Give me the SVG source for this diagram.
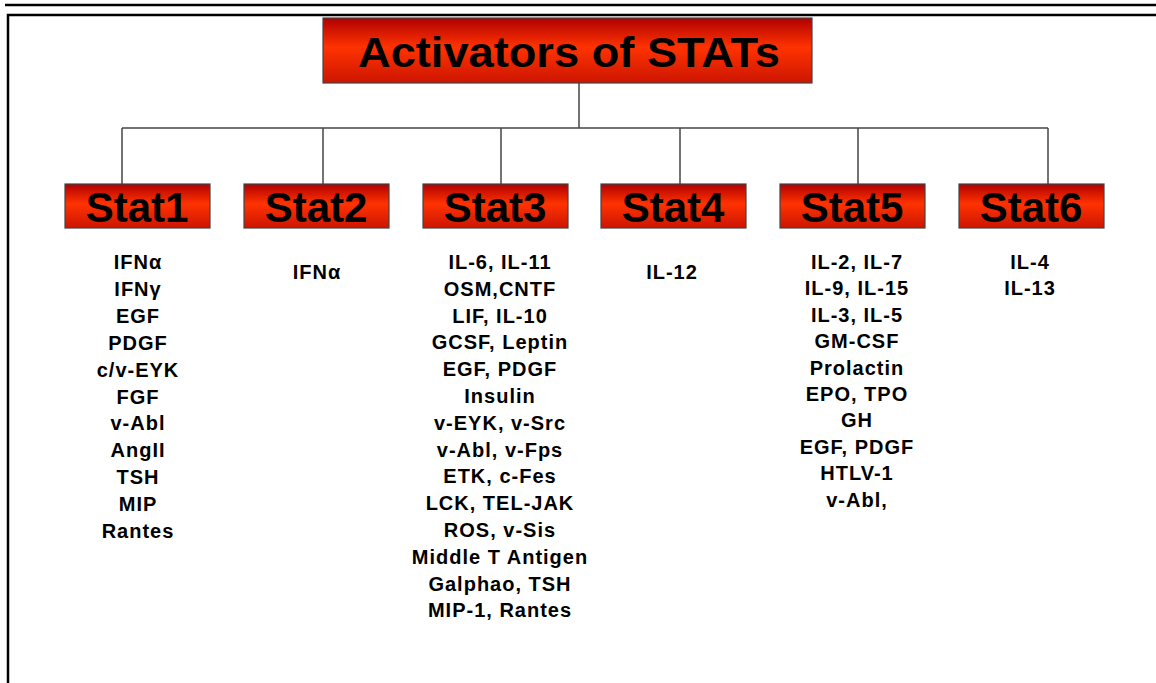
<svg xmlns="http://www.w3.org/2000/svg" width="1156" height="683" viewBox="0 0 1156 683">
<defs>
<linearGradient id="red" x1="0" y1="0" x2="0" y2="1">
<stop offset="0" stop-color="#b00000"/>
<stop offset="0.45" stop-color="#ff3300"/>
<stop offset="1" stop-color="#cc1500"/>
</linearGradient>
<style>
.box{fill:url(#red);stroke:#444;stroke-width:1.2}
.title{font-family:"Liberation Sans",Arial,sans-serif;font-weight:bold;font-size:42px;fill:#000}
.stat{font-family:"Liberation Sans",Arial,sans-serif;font-weight:bold;font-size:42px;fill:#000;text-anchor:middle}
.item{font-family:"Liberation Sans",Arial,sans-serif;font-weight:bold;font-size:20px;letter-spacing:1px;fill:#000;text-anchor:middle}
.conn{stroke:#444;stroke-width:1.5;fill:none}
.frame{stroke:#000;stroke-width:2.5;fill:none}
</style>
</defs>
<rect x="0" y="0" width="1156" height="683" fill="#fff"/>
<g id="frame">
<line class="frame" x1="5" y1="5" x2="1156" y2="5"/>
<polyline class="frame" points="8,683 8,15 1156,15"/>
</g>
<g id="connectors">
<line class="conn" x1="579" y1="83" x2="579" y2="128"/>
<line class="conn" x1="122" y1="128" x2="1048" y2="128"/>
<line class="conn" x1="122" y1="128" x2="122" y2="184"/>
<line class="conn" x1="323" y1="128" x2="323" y2="184"/>
<line class="conn" x1="501" y1="128" x2="501" y2="184"/>
<line class="conn" x1="680" y1="128" x2="680" y2="184"/>
<line class="conn" x1="858" y1="128" x2="858" y2="184"/>
<line class="conn" x1="1048" y1="128" x2="1048" y2="184"/>
</g>
<g id="title">
<rect class="box" x="323" y="18" width="489" height="65"/>
<text class="title" x="358" y="67" textLength="422" lengthAdjust="spacingAndGlyphs">Activators of STATs</text>
</g>
<g id="stat1">
<rect class="box" x="65" y="184" width="145" height="44"/>
<text class="stat" x="137" y="222">Stat1</text>
<text class="item" x="138" y="269">IFNα</text>
<text class="item" x="138" y="295.9">IFNγ</text>
<text class="item" x="138" y="322.8">EGF</text>
<text class="item" x="138" y="349.7">PDGF</text>
<text class="item" x="138" y="376.6">c/v-EYK</text>
<text class="item" x="138" y="403.5">FGF</text>
<text class="item" x="138" y="430.4">v-Abl</text>
<text class="item" x="138" y="457.3">AngII</text>
<text class="item" x="138" y="484.2">TSH</text>
<text class="item" x="138" y="511.1">MIP</text>
<text class="item" x="138" y="538">Rantes</text>
</g>
<g id="stat2">
<rect class="box" x="244" y="184" width="145" height="44"/>
<text class="stat" x="316" y="222">Stat2</text>
<text class="item" x="317" y="279">IFNα</text>
</g>
<g id="stat3">
<rect class="box" x="423" y="184" width="145" height="44"/>
<text class="stat" x="495" y="222">Stat3</text>
<text class="item" x="500" y="269">IL-6, IL-11</text>
<text class="item" x="500" y="295.8">OSM,CNTF</text>
<text class="item" x="500" y="322.6">LIF, IL-10</text>
<text class="item" x="500" y="349.4">GCSF, Leptin</text>
<text class="item" x="500" y="376.2">EGF, PDGF</text>
<text class="item" x="500" y="403">Insulin</text>
<text class="item" x="500" y="429.8">v-EYK, v-Src</text>
<text class="item" x="500" y="456.6">v-Abl, v-Fps</text>
<text class="item" x="500" y="483.4">ETK, c-Fes</text>
<text class="item" x="500" y="510.2">LCK, TEL-JAK</text>
<text class="item" x="500" y="537">ROS, v-Sis</text>
<text class="item" x="500" y="563.8">Middle T Antigen</text>
<text class="item" x="500" y="590.6">Galphao, TSH</text>
<text class="item" x="500" y="617.4">MIP-1, Rantes</text>
</g>
<g id="stat4">
<rect class="box" x="601" y="184" width="145" height="44"/>
<text class="stat" x="673" y="222">Stat4</text>
<text class="item" x="672" y="279">IL-12</text>
</g>
<g id="stat5">
<rect class="box" x="780" y="184" width="145" height="44"/>
<text class="stat" x="852" y="222">Stat5</text>
<text class="item" x="857" y="269">IL-2, IL-7</text>
<text class="item" x="857" y="295.4">IL-9, IL-15</text>
<text class="item" x="857" y="321.8">IL-3, IL-5</text>
<text class="item" x="857" y="348.2">GM-CSF</text>
<text class="item" x="857" y="374.6">Prolactin</text>
<text class="item" x="857" y="401">EPO, TPO</text>
<text class="item" x="857" y="427.4">GH</text>
<text class="item" x="857" y="453.8">EGF, PDGF</text>
<text class="item" x="857" y="480.2">HTLV-1</text>
<text class="item" x="857" y="506.6">v-Abl,</text>
</g>
<g id="stat6">
<rect class="box" x="959" y="184" width="145" height="44"/>
<text class="stat" x="1031" y="222">Stat6</text>
<text class="item" x="1030" y="269">IL-4</text>
<text class="item" x="1030" y="295">IL-13</text>
</g>
</svg>
